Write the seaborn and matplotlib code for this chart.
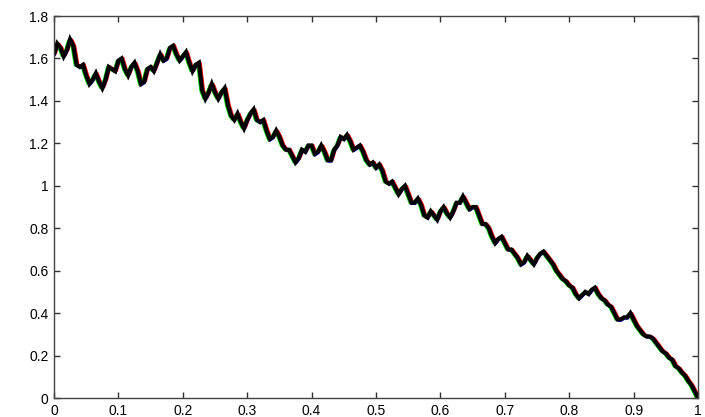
import numpy as np
import pandas as pd
import matplotlib
matplotlib.use("Agg")
import matplotlib.pyplot as plt
import matplotlib.transforms as mtransforms
import seaborn as sns

x_values = [round(i * 0.005, 3) for i in range(201)]
y_values = [
    1.62, 1.67, 1.65, 1.61, 1.64, 1.69, 1.66, 1.57, 1.56, 1.57,
    1.52, 1.48, 1.50, 1.53, 1.49, 1.46, 1.50, 1.56, 1.55, 1.54,
    1.59, 1.60, 1.55, 1.52, 1.56, 1.58, 1.54, 1.48, 1.49, 1.55,
    1.56, 1.54, 1.58, 1.62, 1.59, 1.60, 1.65, 1.66, 1.62, 1.59,
    1.61, 1.63, 1.58, 1.54, 1.57, 1.58, 1.45, 1.41, 1.44, 1.48,
    1.44, 1.41, 1.44, 1.46, 1.38, 1.33, 1.31, 1.34, 1.30, 1.27,
    1.31, 1.34, 1.36, 1.31, 1.30, 1.31, 1.26, 1.22, 1.23, 1.26,
    1.23, 1.19, 1.17, 1.17, 1.14, 1.11, 1.13, 1.17, 1.16, 1.19,
    1.19, 1.15, 1.16, 1.19, 1.16, 1.12, 1.12, 1.17, 1.19, 1.23,
    1.22, 1.24, 1.21, 1.17, 1.18, 1.19, 1.16, 1.12, 1.10, 1.11,
    1.085, 1.10, 1.07, 1.02, 1.01, 1.02, 0.99, 0.96, 0.985, 1.00,
    0.96, 0.92, 0.92, 0.94, 0.91, 0.86, 0.85, 0.88, 0.86, 0.84,
    0.88, 0.90, 0.87, 0.85, 0.88, 0.92, 0.92, 0.95, 0.92, 0.89,
    0.90, 0.90, 0.86, 0.82, 0.82, 0.80, 0.76, 0.73, 0.75, 0.76,
    0.73, 0.70, 0.70, 0.68, 0.66, 0.63, 0.64, 0.67, 0.65, 0.63,
    0.66, 0.68, 0.69, 0.67, 0.65, 0.63, 0.60, 0.58, 0.56, 0.55,
    0.53, 0.52, 0.49, 0.47, 0.485, 0.50, 0.49, 0.51, 0.52, 0.49,
    0.47, 0.46, 0.44, 0.43, 0.40, 0.37, 0.37, 0.38, 0.38, 0.40,
    0.37, 0.34, 0.32, 0.30, 0.29, 0.29, 0.28, 0.26, 0.24, 0.22,
    0.21, 0.19, 0.18, 0.15, 0.14, 0.12, 0.105, 0.08, 0.06, 0.03,
    0.00,
]
x_ticks = [0, 0.1, 0.2, 0.3, 0.4, 0.5, 0.6, 0.7, 0.8, 0.9, 1]
x_tick_labels = ["0", "0.1", "0.2", "0.3", "0.4", "0.5", "0.6", "0.7", "0.8", "0.9", "1"]
y_ticks = [0, 0.2, 0.4, 0.6, 0.8, 1.0, 1.2, 1.4, 1.6, 1.8]
y_tick_labels = ["0", "0.2", "0.4", "0.6", "0.8", "1", "1.2", "1.4", "1.6", "1.8"]

df = pd.DataFrame({"x": x_values, "y": y_values})

sns.set_style("white")
plt.rcParams["font.family"] = ["Liberation Sans", "DejaVu Sans"]

fig = plt.figure(figsize=(7.05, 4.17), dpi=100)
ax = fig.add_axes([54 / 705, 19 / 417, 644 / 705, 382 / 417])

fringe = [("red", 1.4, 0.3), ("#00e000", -1.4, -0.3), ("blue", 0.5, -1.0)]
for color, dx, dy in fringe:
    tr = mtransforms.offset_copy(ax.transData, fig=fig, x=dx, y=dy, units="points")
    sns.lineplot(data=df, x="x", y="y", ax=ax, color=color, lw=1.3,
                 estimator=None, sort=False, transform=tr,
                 solid_joinstyle="miter")
sns.lineplot(data=df, x="x", y="y", ax=ax, color="black", lw=3.0,
             estimator=None, sort=False, solid_joinstyle="miter")

ax.set_xlim(0, 1)
ax.set_ylim(0, 1.8)
ax.set_xticks(x_ticks)
ax.set_xticklabels(x_tick_labels)
ax.set_yticks(y_ticks)
ax.set_yticklabels(y_tick_labels)
ax.set_xlabel("")
ax.set_ylabel("")
ax.tick_params(direction="in", length=4, width=1, colors="#333333",
               labelcolor="black", labelsize=10, top=True, right=True,
               bottom=True, left=True, pad=4)
for s in ax.spines.values():
    s.set_visible(True)
    s.set_color("#444444")
    s.set_linewidth(1.0)

fig.savefig("out.png", dpi=100)
